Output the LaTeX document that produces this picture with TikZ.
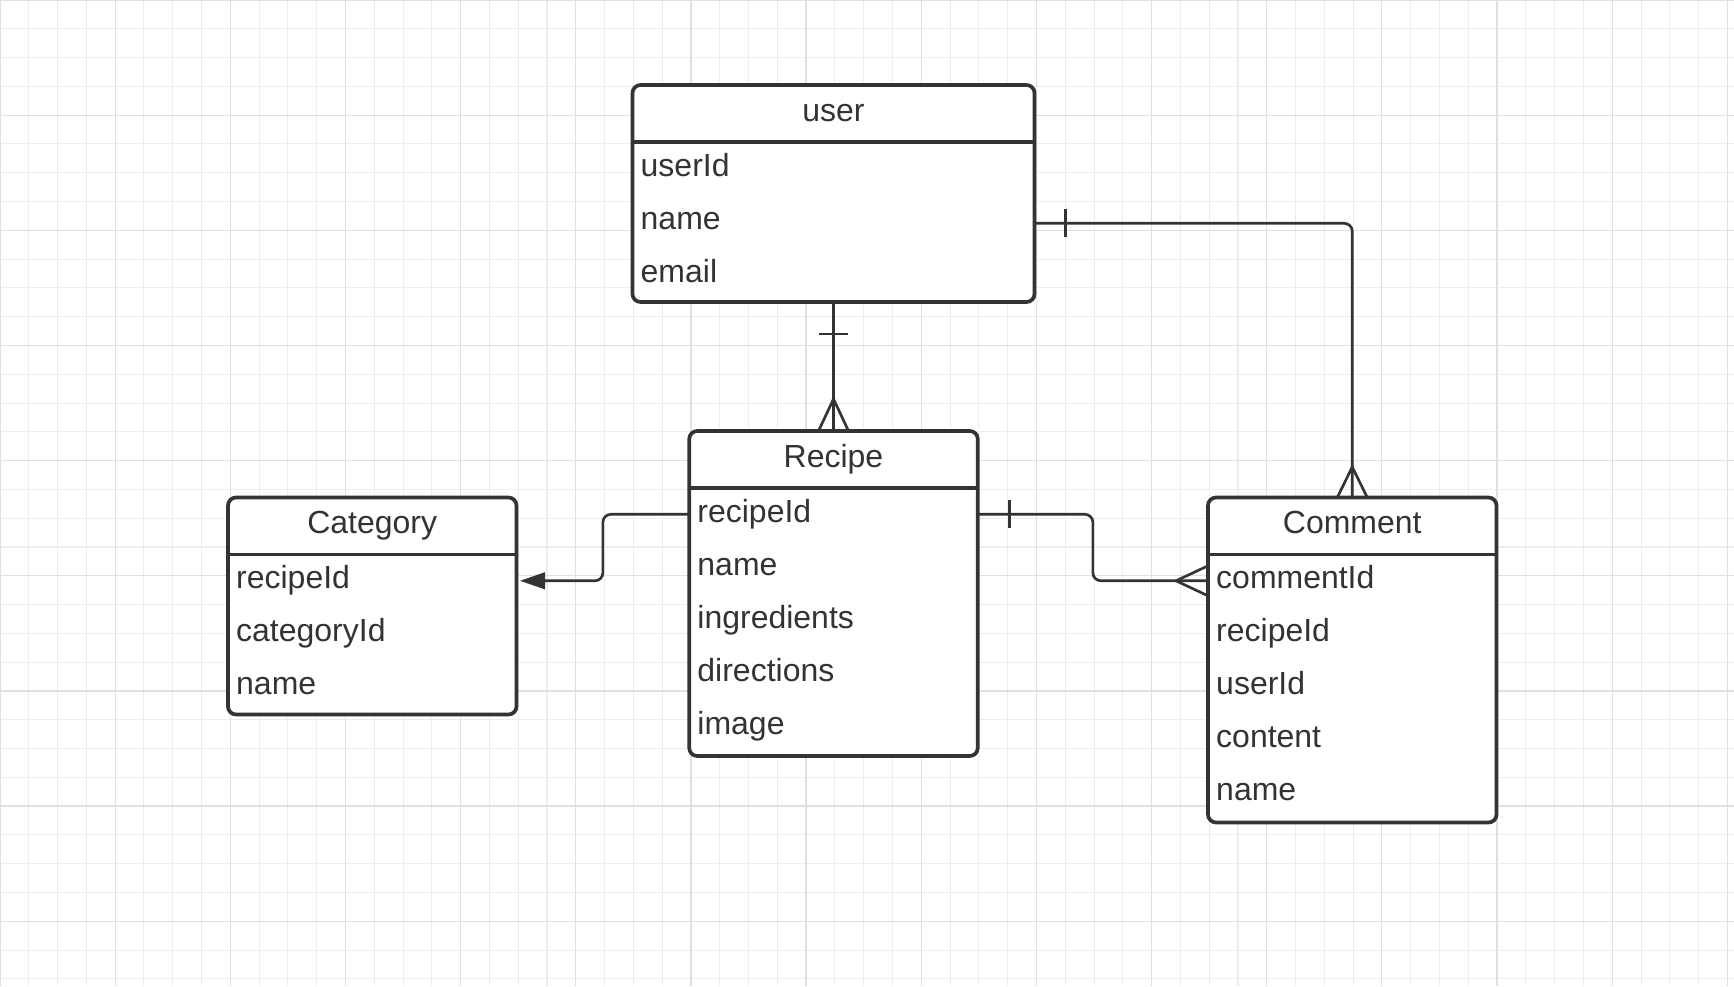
\documentclass[tikz,border=0pt]{standalone}
\usepackage{xcolor}
\usepackage{fontspec}
\setmainfont{Liberation Sans}
\usetikzlibrary{arrows.meta,calc,positioning}
\definecolor{ink}{HTML}{333333}
\definecolor{gridminor}{HTML}{EDEDED}
\definecolor{gridmajor}{HTML}{E0E0E0}
\tikzset{
    entity/.style={draw=ink, line width=1.05pt, rounded corners=0.8mm, fill=white, inner sep=0pt, outer sep=0pt, anchor=north west},
    sepline/.style={draw=ink, line width=1.05pt},
    title/.style={text=ink, anchor=base, inner sep=0pt, font=\fontsize{9.1}{10.9}\selectfont},
    field/.style={text=ink, anchor=base west, inner sep=0pt, font=\fontsize{9.1}{10.9}\selectfont},
    link/.style={draw=ink, line width=0.75pt, rounded corners=0.8mm},
    notch/.style={draw=ink, line width=0.75pt},
}

\begin{document}
\begin{tikzpicture}[x=0.1mm, y=-0.1mm]
    % Page and background.
    \useasboundingbox (0,0) rectangle (1734,986);
    \fill[white] (0,0) rectangle (1734,986);

    % Draw grid lines.
    \foreach \x in {0,28.79,...,1734}
        \draw[gridminor, line width=0.3pt] (\x,0) -- (\x,986);
    \foreach \y in {0,28.79,...,986}
        \draw[gridminor, line width=0.3pt] (0,\y) -- (1734,\y);
    \foreach \x in {0,115.15,...,1734}
        \draw[gridmajor, line width=0.35pt] (\x,0) -- (\x,986);
    \foreach \y in {0,115.15,...,986}
        \draw[gridmajor, line width=0.35pt] (0,\y) -- (1734,\y);

    % Draw entity boxes.
    \node[entity, minimum width=40.2mm, minimum height=21.7mm] (user) at (632.5,85) {};
    \node[entity, minimum width=28.85mm, minimum height=32.5mm] (recipe) at (689.25,431) {};
    \node[entity, minimum width=28.85mm, minimum height=21.7mm] (category) at (228,497.5) {};
    \node[entity, minimum width=28.85mm, minimum height=32.5mm] (comment) at (1208,497.5) {};

    % Header lines and titles.
    \foreach \e/\t in {user/user, recipe/Recipe, category/Category, comment/Comment} {
        \draw[sepline] ($(\e.north west)+(0,57)$) -- ($(\e.north east)+(0,57)$);
        \node[title] (\e-title) at ($(\e.north)+(0,36)$) {\t};
    }

    % Fields.
    \foreach \f [count=\i] in {userId,name,email}
        \node[field] (user-\i) at ($(user.north west)+(7.5,{38.2+53.05*\i})$) {\f};
    \foreach \f [count=\i] in {recipeId,name,ingredients,directions,image}
        \node[field] (recipe-\i) at ($(recipe.north west)+(7.5,{38.2+53.05*\i})$) {\f};
    \foreach \f [count=\i] in {recipeId,categoryId,name}
        \node[field] (category-\i) at ($(category.north west)+(7.5,{38.2+53.05*\i})$) {\f};
    \foreach \f [count=\i] in {commentId,recipeId,userId,content,name}
        \node[field] (comment-\i) at ($(comment.north west)+(7.5,{38.2+53.05*\i})$) {\f};

    % user -- Recipe.
    \draw[link] (user.south) -- (recipe.north);
    \draw[notch] ($(user.south)+(-14.5,32)$) -- ($(user.south)+(14.5,32)$);
    \draw[notch] ($(recipe.north)+(-15,0)$) -- ($(recipe.north)+(0,-32)$) -- ($(recipe.north)+(15,0)$);

    % user -- Comment.
    \coordinate (user-key) at ($(user.north east)+(0,138.3)$);
    \draw[link] (user-key) -| (comment.north);
    \draw[notch] ($(user-key)+(31,-14)$) -- ($(user-key)+(31,14)$);
    \draw[notch] ($(comment.north)+(-15,0)$) -- ($(comment.north)+(0,-30.5)$) -- ($(comment.north)+(15,0)$);

    % Recipe -- Category.
    \coordinate (recipe-west) at ($(recipe.north west)+(0,83.3)$);
    \coordinate (category-key) at ($(category.north east)+(0,83.3)$);
    \draw[link, -{Triangle[length=2.5mm, width=1.65mm]}, shorten >=0.35mm]
        (recipe-west) -| ($(recipe-west)!.5!(category-key)$) |- (category-key);

    % Recipe -- Comment.
    \coordinate (recipe-east) at ($(recipe.north east)+(0,83.3)$);
    \coordinate (comment-key) at ($(comment.north west)+(0,83.3)$);
    \draw[link] (recipe-east) -| ($(recipe-east)!.5!(comment-key)$) |- (comment-key);
    \draw[notch] ($(recipe-east)+(31.5,-14)$) -- ($(recipe-east)+(31.5,14)$);
    \draw[notch] ($(comment-key)+(0,-15)$) -- ($(comment-key)+(-32,0)$) -- ($(comment-key)+(0,15)$);
\end{tikzpicture}
\end{document}
